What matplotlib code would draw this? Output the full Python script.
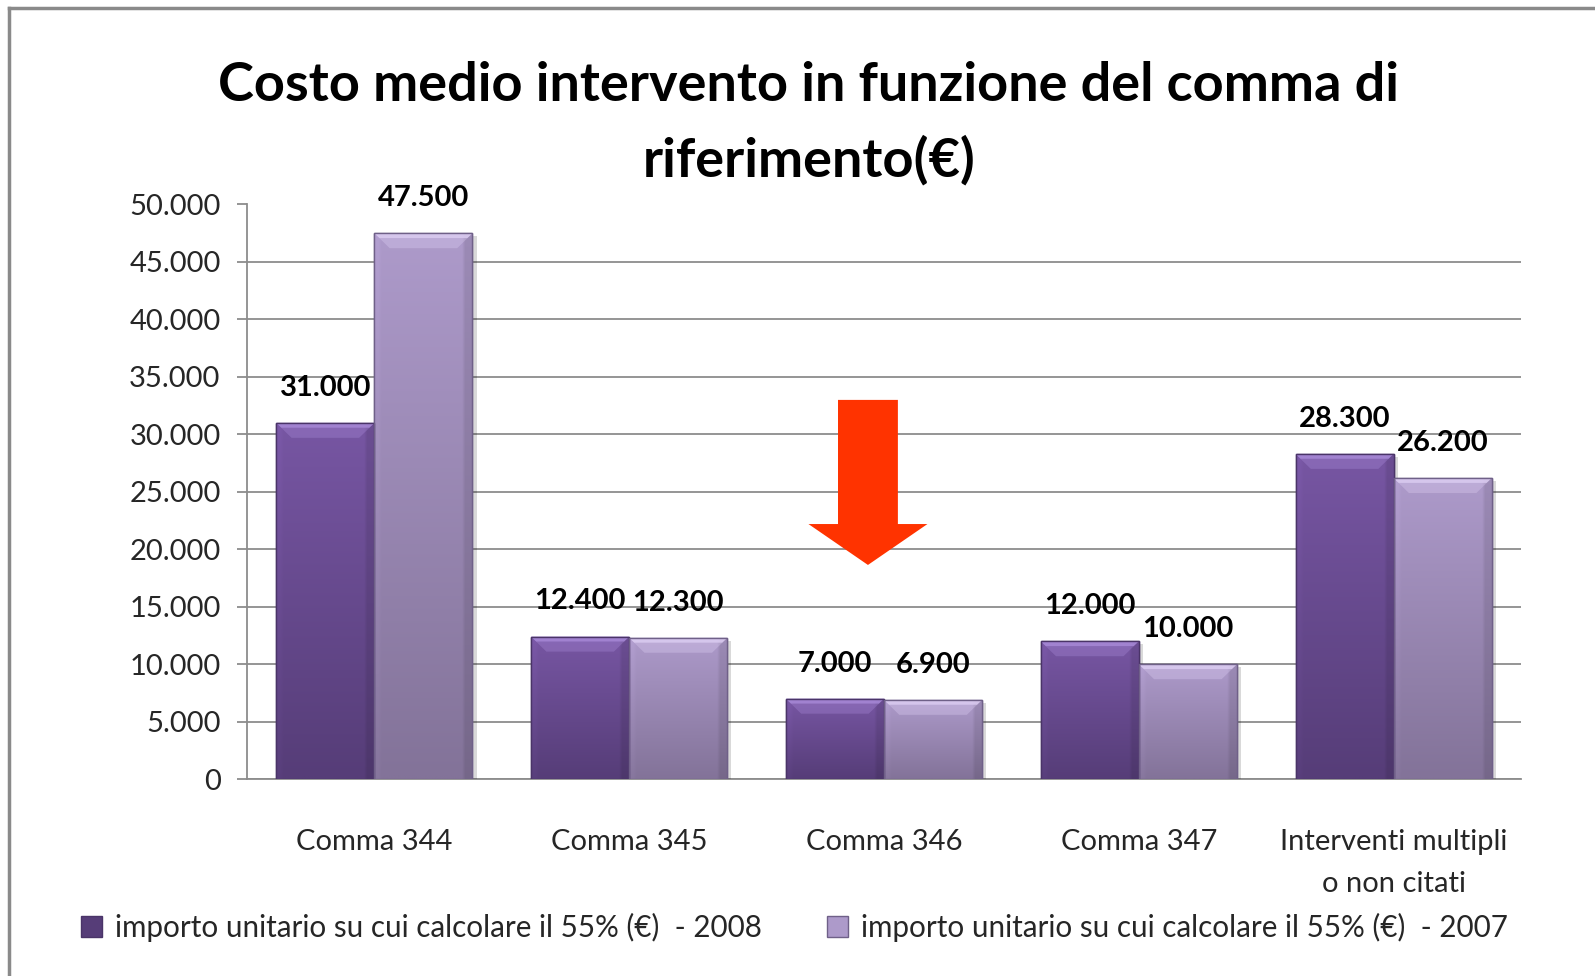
import numpy as np
import matplotlib
matplotlib.use("Agg")
import matplotlib.pyplot as plt
import matplotlib.patches as mpatches
import matplotlib.patheffects as pe
from matplotlib.colors import to_rgb
from matplotlib.lines import Line2D

plt.rcParams['font.family'] = ['Lato', 'DejaVu Sans']

# ---------------- data ----------------
categories = ["Comma 344", "Comma 345", "Comma 346", "Comma 347",
              "Interventi multipli\no non citati"]
values_2008 = [31000, 12400, 7000, 12000, 28300]
values_2007 = [47500, 12300, 6900, 10000, 26200]
series_names = ["importo unitario su cui calcolare il 55% (€)  - 2008",
                "importo unitario su cui calcolare il 55% (€)  - 2007"]
yticks = [0, 5000, 10000, 15000, 20000, 25000, 30000, 35000, 40000, 45000, 50000]
title = "Costo medio intervento in funzione del comma di\nriferimento(€)"


def fmt(v):
    return f"{v:,.0f}".replace(",", ".")


# ---------------- style ----------------
W, H = 1595, 976
fig = plt.figure(figsize=(W / 100, H / 100), dpi=100)
ax = fig.add_axes([247 / W, 1 - 779.2 / H, 1274 / W, 574.7 / H])

bar_w = 0.385
dark_top, dark_bot = "#7756a3", "#563d78"
light_top, light_bot = "#ad9aca", "#837399"
dark_edge, light_edge = "#4a3468", "#6f6088"
dark_bevel, light_bevel = "#a88ad8", "#dccdf2"

x = np.arange(len(categories))


def gradient_img(top, bot, n=64, m=32):
    t = np.linspace(0, 1, n)[:, None, None]
    c = np.array(to_rgb(top))[None, None, :] * (1 - t) + np.array(to_rgb(bot))[None, None, :] * t
    c = np.repeat(c, m, axis=1)
    s = np.linspace(0, 1, m)
    f = np.ones(m)
    f[s > 0.92] = 0.9
    f[s < 0.05] = 1.03
    c = np.clip(c * f[None, :, None], 0, 1)
    return c


def draw_series(lefts, vals, top, bot, edge, bevel, label):
    bars = ax.bar(lefts, vals, width=bar_w, align='edge', color=top,
                  edgecolor=edge, linewidth=1.0, zorder=3, label=label)
    img = gradient_img(top, bot)
    for b in bars:
        b.set_path_effects([pe.SimplePatchShadow(offset=(3, -2), shadow_rgbFace='#000000', alpha=0.15),
                            pe.Normal()])
        x0, w, h = b.get_x(), b.get_width(), b.get_height()
        im = ax.imshow(img, extent=[x0, x0 + w, 0, h], aspect='auto',
                       interpolation='bilinear', zorder=3.1)
        im.set_clip_path(b)
        # top bevel
        bh = 1300
        d = 0.06
        ax.add_patch(mpatches.Polygon([[x0, h], [x0 + w, h], [x0 + w - d, h - bh], [x0 + d, h - bh]],
                                      closed=True, facecolor=bevel, edgecolor='none',
                                      alpha=0.35, zorder=3.2))
        ax.add_patch(mpatches.Polygon([[x0, h], [x0 + w, h], [x0 + w - 0.02, h - 420], [x0 + 0.02, h - 420]],
                                      closed=True, facecolor=bevel, edgecolor='none',
                                      alpha=0.8, zorder=3.25))
        ax.add_patch(mpatches.Rectangle((x0, 0), w, h, facecolor='none',
                                        edgecolor=edge, linewidth=1.0, zorder=3.3))
    return bars


bars08 = draw_series(x - bar_w, values_2008, dark_top, dark_bot, dark_edge, dark_bevel, series_names[0])
bars07 = draw_series(x, values_2007, light_top, light_bot, light_edge, light_bevel, series_names[1])

# data labels
for bars, vals in ((bars08, values_2008), (bars07, values_2007)):
    for b, v in zip(bars, vals):
        ax.annotate(fmt(v), (b.get_x() + b.get_width() / 2, v), xytext=(0, 16),
                    textcoords='offset points', ha='center', va='bottom',
                    fontsize=21, fontweight='bold', color='black', zorder=5)

ax.set_xlim(-0.5, len(categories) - 0.5)
ax.set_ylim(0, 50000)
ax.set_yticks(yticks)
ax.set_yticklabels([fmt(v) for v in yticks], fontsize=21, color='#262626')
ax.set_xticks(x)
ax.set_xticklabels(categories, fontsize=21, color='#262626', linespacing=1.75, va='top')
ax.tick_params(axis='x', length=0, pad=36)
ax.tick_params(axis='y', length=7, width=1.3, color='#8c8c8c', pad=12, direction='out')
ax.yaxis.grid(True, color='#8c8c8c', linewidth=1.3, zorder=0)
ax.set_axisbelow(True)
for s in ('top', 'right'):
    ax.spines[s].set_visible(False)
ax.spines['left'].set_color('#8c8c8c')
ax.spines['left'].set_linewidth(1.3)
ax.spines['bottom'].set_color('#8c8c8c')
ax.spines['bottom'].set_linewidth(1.3)

# red arrow annotation
arrow = mpatches.FancyArrow(1.937, 33000, 0, -14360, width=0.235, head_width=0.467,
                            head_length=3560, length_includes_head=True,
                            facecolor='#ff3300', edgecolor='none', zorder=4)
ax.add_patch(arrow)

# title
fig.text(809 / W, 1 - 123 / H, title, ha='center', va='center', fontsize=39,
         fontweight='bold', color='black', linespacing=1.6)

# legend
handles = [mpatches.Patch(facecolor=dark_bot, edgecolor=dark_edge),
           mpatches.Patch(facecolor=light_top, edgecolor=light_edge)]
fig.legend(handles, series_names, loc='center left', bbox_to_anchor=(81 / W, 1 - 927 / H),
           ncol=2, frameon=False, fontsize=21.3, handlelength=0.7, handleheight=0.7,
           handletextpad=0.45, columnspacing=2.2, borderpad=0, borderaxespad=0,
           labelcolor='#262626')

# frame
fig.add_artist(Line2D([9 / W, 9 / W], [0, 1 - 8 / H], transform=fig.transFigure,
                      color='#8a8a8a', linewidth=2.5))
fig.add_artist(Line2D([9 / W, 1], [1 - 8 / H, 1 - 8 / H], transform=fig.transFigure,
                      color='#8a8a8a', linewidth=2.5))

fig.savefig("out.png", dpi=100)
